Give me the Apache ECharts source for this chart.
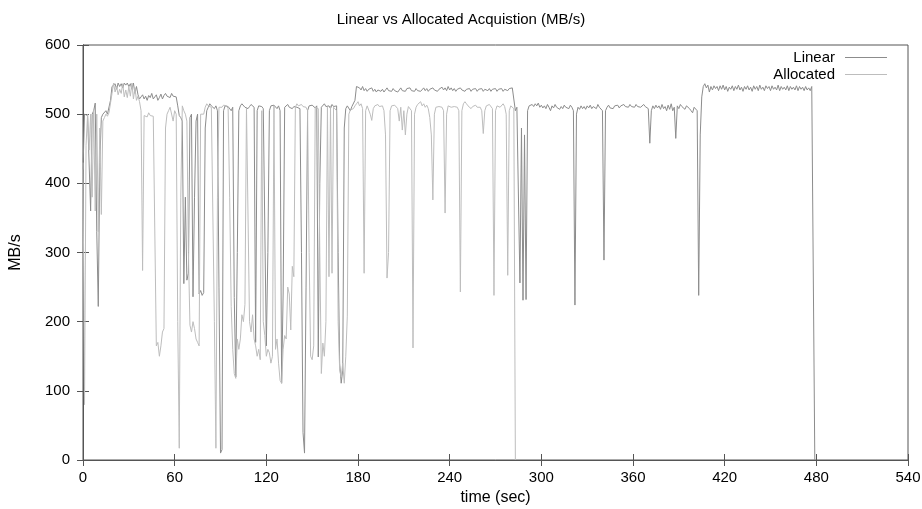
<!DOCTYPE html>
<html>
<head>
<meta charset="utf-8">
<script src="https://cdn.jsdelivr.net/npm/echarts@6/dist/echarts.min.js"></script>
<style>
html,body{margin:0;padding:0;background:#fff;}
#chart{width:922px;height:509px;}
</style>
</head>
<body>
<div id="chart"></div>
<script>
// Time axis: one sample per second, starting at 0 sec
const chartTitle = 'Linear vs Allocated Acquistion (MB/s)';
const seriesNames = ['Linear', 'Allocated'];
const xTicks = [0, 60, 120, 180, 240, 300, 360, 420, 480, 540];
const yTicks = [0, 100, 200, 300, 400, 500, 600];

// Linear: MB/s for t = 0..479 sec
const linearMBs = [
  // 0-18
  420, 500, 502, 498, 500, 360, 500, 505, 516, 330, 222, 430, 495, 500, 498, 505, 500, 502, 520,
  // 19-37
  540, 538, 544, 536, 545, 540, 544, 538, 545, 542, 545, 540, 544, 536, 545, 530, 540, 528, 522,
  // 38-63
  525, 528, 522, 526, 520, 527, 524, 530, 522, 525, 528, 520, 524, 529, 522, 527, 530, 526, 528, 524, 530, 526, 528, 525, 512, 498,
  // 64-100
  495, 490, 255, 380, 260, 270, 495, 500, 236, 380, 490, 500, 240, 245, 238, 242, 480, 505, 510, 515,
  512, 510, 508, 512, 505, 250, 10, 15, 505, 512, 510, 511, 513, 505, 510, 235, 120,
  // 101-140
  300, 505, 512, 515, 513, 510, 512, 508, 511, 514, 512, 510, 170, 505, 512, 510, 511, 508, 510, 165,
  300, 505, 512, 510, 513, 511, 508, 512, 505, 111, 240, 510, 512, 514, 510, 512, 508, 511, 513, 510,
  // 141-180
  512, 508, 300, 40, 10, 250, 505, 512, 510, 513, 511, 509, 512, 149, 400, 510, 512, 515, 511, 510,
  512, 508, 514, 511, 510, 512, 300, 140, 111, 130, 480, 508, 512, 510, 505, 511, 512, 520, 540, 542,
  // 181-282
  538, 535, 540, 534, 537, 533, 536, 534, 538, 533, 536, 532, 535, 537, 533, 536, 532, 535, 538, 534,
  536, 533, 537, 534, 536, 532, 535, 538, 534, 536, 533, 537, 535, 538, 534, 536, 533, 537, 534, 536,
  533, 535, 538, 534, 537, 533, 536, 534, 538, 535, 537, 533, 536, 534, 539, 535, 538, 534, 540, 535,
  538, 534, 537, 533, 536, 534, 538, 535, 537, 533, 536, 534, 537, 533, 536, 534, 537, 533, 536, 534,
  537, 533, 536, 538, 534, 537, 533, 536, 534, 537, 533, 536, 534, 537, 533, 536, 538, 534, 537, 535,
  538, 536,
  // 283-404
  505, 510, 508, 256, 480, 231, 470, 232, 505, 512, 510, 514, 511, 515, 512, 516, 510, 513, 509, 512,
  508, 514, 510, 505, 512, 509, 514, 510, 512, 507, 511, 508, 513, 510, 512, 508, 513, 510, 505, 224,
  500, 510, 507, 512, 508, 511, 507, 512, 509, 513, 508, 511, 512, 508, 514, 510, 512, 505, 289, 505,
  510, 513, 509, 511, 508, 512, 510, 513, 509, 512, 510, 514, 511, 513, 510, 514, 511, 512, 510, 514,
  511, 513, 510, 512, 514, 511, 513, 508, 458, 505, 512, 508, 513, 509, 512, 507, 514, 508, 511, 505,
  513, 507, 515, 505, 510, 465, 512, 508, 514, 511, 509, 507, 512, 510, 508, 505, 502, 510, 512, 505,
  238, 470,
  // 405-479
  525, 540, 544, 538, 542, 532, 540, 535, 541, 537, 540, 534, 541, 536, 542, 535, 540, 533, 539, 536,
  541, 534, 540, 536, 542, 535, 539, 533, 540, 536, 541, 535, 539, 533, 541, 536, 540, 534, 542, 536,
  539, 534, 541, 537, 540, 534, 541, 536, 539, 535, 542, 534, 540, 536, 539, 535, 541, 534, 540, 536,
  539, 535, 541, 534, 540, 536, 539, 534, 540, 535, 538, 534, 540, 538, 0
];

// Allocated: MB/s for t = 0..283 sec
const allocatedMBs = [
  // 0-18
  430, 80, 455, 500, 448, 500, 380, 505, 360, 500, 330, 480, 355, 490, 495, 500, 497, 502, 500,
  // 19-38
  530, 545, 532, 540, 528, 536, 530, 544, 525, 535, 524, 540, 526, 545, 522, 538, 520, 526, 518, 505,
  // 39-64
  274, 498, 500, 496, 502, 498, 500, 497, 497, 165, 170, 150, 165, 185, 190, 480, 500, 505, 510, 508,
  490, 505, 500, 200, 17, 380,
  // 65-99
  512, 505, 500, 490, 300, 195, 185, 200, 190, 175, 170, 165, 500, 498, 500, 510, 515, 512, 514, 510,
  512, 200, 17, 380, 510, 512, 510, 513, 511, 512, 508, 380, 222, 160, 125,
  // 100-140
  118, 175, 160, 175, 210, 200, 225, 510, 512, 200, 185, 210, 175, 165, 150, 160, 145, 505, 200, 180,
  150, 160, 155, 140, 150, 512, 160, 175, 140, 115, 111, 160, 180, 175, 250, 240, 188, 280, 265, 510,
  515,
  // 141-180
  512, 510, 514, 511, 513, 510, 505, 300, 150, 145, 165, 510, 512, 508, 300, 125, 169, 150, 200, 510,
  265, 512, 270, 510, 512, 505, 200, 130, 120, 140, 111, 150, 208, 500, 506, 505, 508, 512, 515, 518,
  // 181-283
  512, 515, 508, 270, 505, 512, 510, 500, 491, 508, 512, 510, 514, 511, 509, 512, 505, 470, 263, 300,
  505, 512, 510, 513, 511, 508, 490, 510, 477, 505, 470, 500, 511, 512, 505, 162, 500, 510, 514, 512,
  518, 512, 515, 510, 513, 508, 495, 470, 376, 500, 510, 512, 511, 513, 510, 505, 357, 500, 512, 514,
  510, 512, 511, 513, 510, 505, 243, 505, 515, 518, 515, 512, 510, 508, 511, 512, 513, 510, 512, 510,
  505, 472, 505, 512, 510, 514, 512, 508, 238, 505, 512, 514, 510, 512, 515, 511, 500, 267, 505, 512,
  510, 508, 0
];

const linearData = linearMBs.map((v, i) => [i, v]);
const allocatedData = allocatedMBs.map((v, i) => [i, v]);

const axisColor = '#555';
const font = '"Liberation Sans", Arial, sans-serif';

const chart = echarts.init(document.getElementById('chart'), null, {renderer: 'canvas'});
chart.setOption({
  animation: false,
  backgroundColor: '#fff',
  title: {
    text: chartTitle,
    left: 'center',
    top: 7,
    textStyle: {fontFamily: font, fontSize: 15, fontWeight: 'normal', color: '#000'}
  },
  legend: {
    data: seriesNames,
    orient: 'vertical',
    align: 'right',
    right: 30,
    top: 45,
    itemWidth: 42,
    itemHeight: 1,
    itemGap: 2,
    icon: 'rect',
    textStyle: {fontFamily: font, fontSize: 15, color: '#000', padding: [0, 5, 0, 0]}
  },
  grid: {left: 83, right: 14, top: 45, bottom: 49, outerBoundsMode: 'none', containLabel: false,
         show: true, borderColor: axisColor, borderWidth: 1, backgroundColor: 'transparent'},
  xAxis: [{
    type: 'value', min: xTicks[0], max: xTicks[xTicks.length - 1], interval: 60,
    name: 'time (sec)', nameLocation: 'middle', nameGap: 30,
    nameTextStyle: {fontFamily: font, fontSize: 16, color: '#000'},
    axisLine: {show: true, lineStyle: {color: axisColor}},
    axisTick: {show: true, inside: true, length: 6, lineStyle: {color: axisColor}},
    axisLabel: {fontFamily: font, fontSize: 15, color: '#000', margin: 10},
    splitLine: {show: false}
  }, {
    type: 'value', position: 'top', min: xTicks[0], max: xTicks[xTicks.length - 1], interval: 60,
    axisLine: {show: true, lineStyle: {color: axisColor}},
    axisTick: {show: true, inside: true, length: 6, lineStyle: {color: axisColor}},
    axisLabel: {show: false}, splitLine: {show: false}
  }],
  yAxis: [{
    type: 'value', min: yTicks[0], max: yTicks[yTicks.length - 1], interval: 100,
    name: 'MB/s', nameLocation: 'middle', nameGap: 59, nameRotate: 90,
    nameTextStyle: {fontFamily: font, fontSize: 16, color: '#000'},
    axisLine: {show: true, lineStyle: {color: axisColor}},
    axisTick: {show: true, inside: true, length: 6, lineStyle: {color: axisColor}},
    axisLabel: {fontFamily: font, fontSize: 15, color: '#000', margin: 13},
    splitLine: {show: false}
  }, {
    type: 'value', position: 'right', min: yTicks[0], max: yTicks[yTicks.length - 1], interval: 100,
    axisLine: {show: true, lineStyle: {color: axisColor}},
    axisTick: {show: true, inside: true, length: 6, lineStyle: {color: axisColor}},
    axisLabel: {show: false}, splitLine: {show: false}
  }],
  series: [{
    name: seriesNames[0], type: 'line', data: linearData,
    xAxisIndex: 0, yAxisIndex: 0,
    showSymbol: false, symbol: 'none',
    lineStyle: {width: 1, color: '#8c8c8c'}, itemStyle: {color: '#8c8c8c'},
    silent: true
  }, {
    name: seriesNames[1], type: 'line', data: allocatedData,
    xAxisIndex: 0, yAxisIndex: 0,
    showSymbol: false, symbol: 'none',
    lineStyle: {width: 1, color: '#bdbdbd'}, itemStyle: {color: '#bdbdbd'},
    silent: true
  }]
});
</script>
</body>
</html>
